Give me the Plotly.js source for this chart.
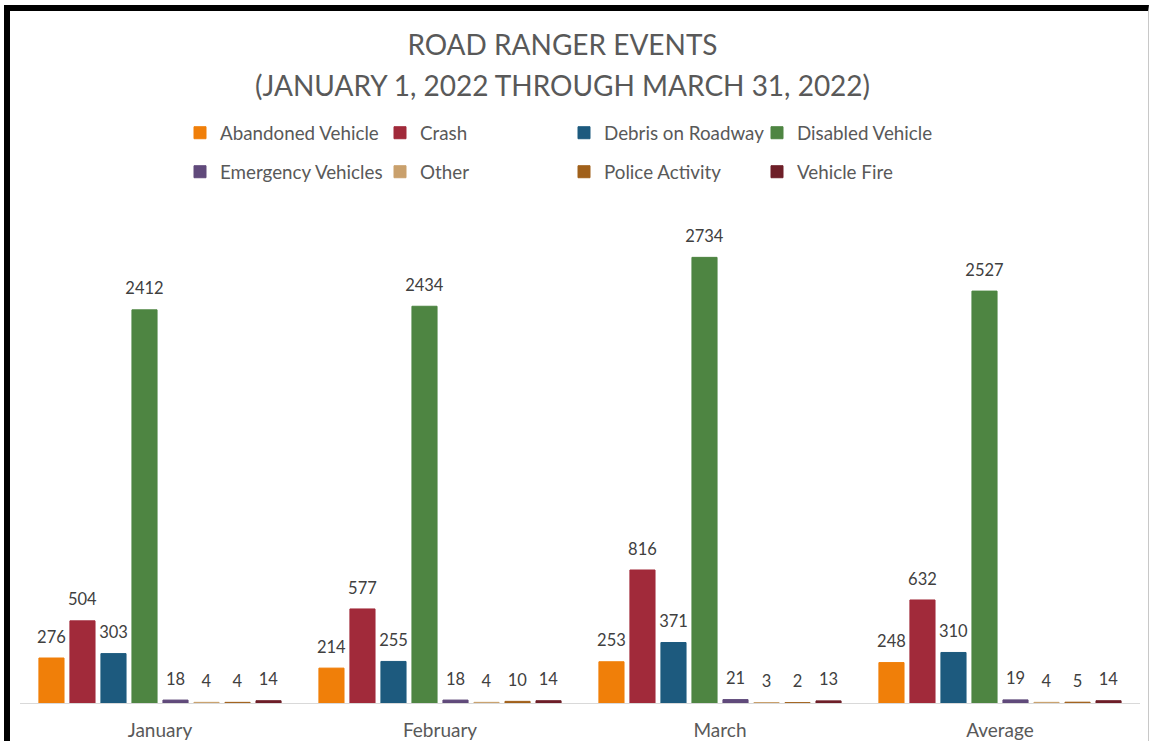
<!DOCTYPE html>
<html>
<head>
<meta charset="utf-8">
<script src="https://cdn.plot.ly/plotly-3.0.1.min.js"></script>
<style>
  html, body { margin: 0; padding: 0; background: #fff; }
  #wrap { position: relative; width: 1155px; height: 741px; overflow: hidden; }
  #chart { width: 1155px; height: 741px; }
  #frame { position: absolute; left: 4px; top: 5px; width: 1145px; height: 760px;
           border-top: 6px solid #000; border-left: 6px solid #000; border-right: 1px solid #c8c8c8;
           pointer-events: none; box-sizing: border-box; }
</style>
</head>
<body>
<div id="wrap">
  <div id="chart"></div>
  <div id="frame"></div>
</div>
<script>
const categories = ["January", "February", "March", "Average"];
const seriesNames = ["Abandoned Vehicle", "Crash", "Debris on Roadway", "Disabled Vehicle",
                     "Emergency Vehicles", "Other", "Police Activity", "Vehicle Fire"];
const abandonedVehicle = [276, 214, 253, 248];
const crash = [504, 577, 816, 632];
const debrisOnRoadway = [303, 255, 371, 310];
const disabledVehicle = [2412, 2434, 2734, 2527];
const emergencyVehicles = [18, 18, 21, 19];
const other = [4, 4, 3, 4];
const policeActivity = [4, 10, 2, 5];
const vehicleFire = [14, 14, 13, 14];
const titleLine1 = "ROAD RANGER EVENTS";
const titleLine2 = "(JANUARY 1, 2022 THROUGH MARCH 31, 2022)";

const seriesValues = [abandonedVehicle, crash, debrisOnRoadway, disabledVehicle,
                      emergencyVehicles, other, policeActivity, vehicleFire];
const colors = ["#F07F09", "#A12A3A", "#1D5A7E", "#4E8542",
                "#604A7B", "#C9A06C", "#A0601A", "#6E1F28"];
// per-item legend widths so the legend columns line up like the original
const legendWidths = [155, 139, 148, 148, 155, 139, 148, 148];

const FONT = "Lato, 'Open Sans', sans-serif";

const traces = seriesNames.map((name, i) => ({
  type: "bar",
  name: name,
  x: categories,
  y: seriesValues[i],
  text: seriesValues[i].map(v => "<span style='font-size:16.5px'>" + v + "</span><br>\u00A0"),
  textposition: "outside",
  constraintext: "none",
  cliponaxis: false,
  textfont: { family: FONT, size: 8, color: "#404040" },
  marker: { color: colors[i], line: { color: colors[i], width: 1 } },
  legend: i < 4 ? "legend" : "legend2",
  legendwidth: legendWidths[i],
  hovertemplate: "%{x}<br>" + name + ": %{y}<extra></extra>"
}));

const legendFont = { family: FONT, size: 18.8, color: "#595959" };

const layout = {
  width: 1155,
  height: 741,
  paper_bgcolor: "#ffffff",
  plot_bgcolor: "#ffffff",
  margin: { l: 20, r: 15, t: 214, b: 38 },
  title: {
    text: titleLine1,
    font: { family: FONT, size: 28, color: "#595959" },
    x: 0.487, xanchor: "center",
    yref: "container", y: 1 - 45 / 741, yanchor: "middle"
  },
  annotations: [{
    text: titleLine2,
    xref: "paper", yref: "paper",
    x: 0.487 * 1155 / 1120 - 20 / 1120, xanchor: "center",
    y: (703 - 85) / 489, yanchor: "middle",
    showarrow: false,
    font: { family: FONT, size: 28, color: "#595959" }
  }],
  barmode: "group",
  bargap: 0.114,
  bargroupgap: 0.19,
  showlegend: true,
  legend: {
    orientation: "h", xref: "container", yref: "container",
    x: 180 / 1155, xanchor: "left", y: 1 - 133 / 741, yanchor: "middle",
    font: legendFont, bgcolor: "rgba(0,0,0,0)", traceorder: "normal"
  },
  legend2: {
    orientation: "h", xref: "container", yref: "container",
    x: 180 / 1155, xanchor: "left", y: 1 - 172 / 741, yanchor: "middle",
    font: legendFont, bgcolor: "rgba(0,0,0,0)", traceorder: "normal"
  },
  xaxis: {
    type: "category",
    showline: true, linecolor: "#D9D9D9", linewidth: 1,
    ticks: "", showgrid: false, zeroline: false,
    tickfont: { family: FONT, size: 19, color: "#595959" },
    ticklabelstandoff: 10
  },
  yaxis: {
    range: [0, 3000],
    showgrid: false, zeroline: false, showline: false,
    showticklabels: false, ticks: ""
  }
};

Plotly.newPlot("chart", traces, layout, { displayModeBar: false });
</script>
</body>
</html>
